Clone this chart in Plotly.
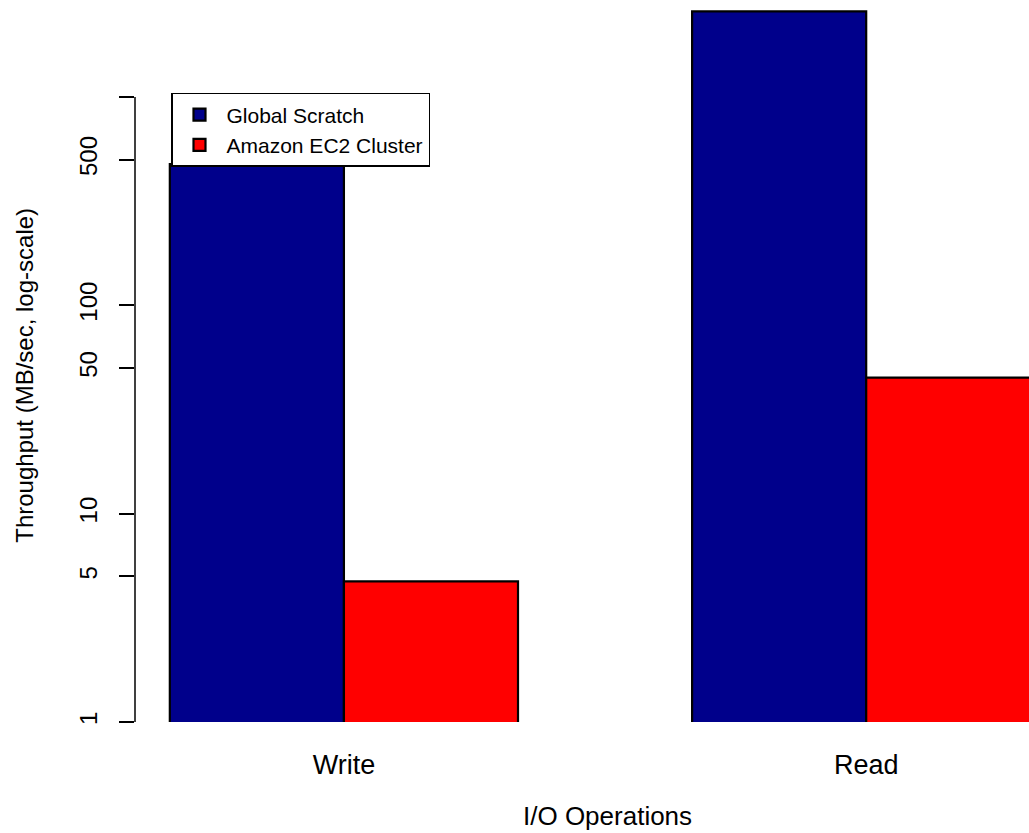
import plotly.graph_objects as go

# Throughput per I/O operation (MB/sec)
operations = ["Write", "Read"]
global_scratch = [476, 2570]
amazon_ec2 = [4.73, 44.9]

# Log-axis ticks; the 1000 tick carries no label
tick_values = [1, 5, 10, 50, 100, 500, 1000]
tick_labels = ["1", "5", "10", "50", "100", "500", ""]

FONT = "Liberation Sans, Arial, Helvetica, sans-serif"

W, H = 1029, 833
M_L, M_R, M_T, M_B = 135, 0, 0, 110.5
PLOT_W = W - M_L - M_R
PLOT_H = H - M_T - M_B

fig = go.Figure()
fig.add_trace(go.Bar(
    name="Global Scratch", x=operations, y=global_scratch,
    marker=dict(color="#00008B", line=dict(color="black", width=2.2)),
))
fig.add_trace(go.Bar(
    name="Amazon EC2 Cluster", x=operations, y=amazon_ec2,
    marker=dict(color="#FF0000", line=dict(color="black", width=2.2)),
))

# Axis line spanning only the labelled range (1 to 1000)
fig.add_shape(type="line", xref="paper", yref="y",
              x0=0, x1=0, y0=1, y1=1000,
              line=dict(color="black", width=1.5))

# Axis titles, centred on the full drawing region of the bar layout
fig.add_annotation(
    text="Throughput (MB/sec, log-scale)", textangle=-90,
    xref="paper", yref="paper",
    x=(25 - M_L) / PLOT_W, y=1 - (376 - M_T) / PLOT_H,
    xanchor="center", yanchor="middle", showarrow=False,
    font=dict(size=24, family=FONT, color="black"),
)
fig.add_annotation(
    text="I/O Operations",
    xref="paper", yref="paper",
    x=(607.5 - M_L) / PLOT_W, y=1 - (817 - M_T) / PLOT_H,
    xanchor="center", yanchor="middle", showarrow=False,
    font=dict(size=26, family=FONT, color="black"),
)

fig.update_layout(
    width=W, height=H,
    margin=dict(l=M_L, r=M_R, t=M_T, b=M_B),
    paper_bgcolor="white", plot_bgcolor="white",
    barmode="group", bargap=1/3, bargroupgap=0,
    font=dict(family=FONT, color="black"),
    showlegend=True,
    legend=dict(
        x=(171 - M_L) / PLOT_W, y=1 - (93 - M_T) / PLOT_H,
        xanchor="left", yanchor="top",
        bgcolor="white", bordercolor="black", borderwidth=1.5,
        font=dict(size=21, family=FONT), traceorder="normal",
        itemwidth=44,
    ),
    xaxis=dict(
        type="category", range=[-0.4, 1.3117],
        showline=False, showgrid=False, zeroline=False, ticks="",
        tickfont=dict(size=27), ticklabelstandoff=24,
    ),
    yaxis=dict(
        type="log", range=[0, 3.465],
        showline=False, showgrid=False, zeroline=False,
        tickvals=tick_values, ticktext=tick_labels,
        ticks="outside", ticklen=15, tickwidth=1.5, tickcolor="black",
        tickangle=-90, tickfont=dict(size=24), ticklabelstandoff=12,
    ),
)

fig.write_html("out.html")
